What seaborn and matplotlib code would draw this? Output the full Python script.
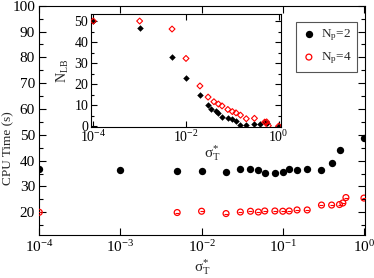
import numpy as np
import pandas as pd
import matplotlib
matplotlib.use("Agg")
import matplotlib.pyplot as plt
import seaborn as sns
from matplotlib.ticker import (FixedLocator, MultipleLocator,
                               NullLocator, LogFormatterSciNotation)

# ---------------- data ----------------
sigma_np2 = [1e-4, 1e-3, 0.005, 0.01, 0.02, 0.03, 0.04, 0.05, 0.06, 0.08,
             0.1, 0.12, 0.15, 0.2, 0.3, 0.4, 0.5, 1.0]
cpu_np2 = [36.9, 36.4, 35.8, 35.8, 35.7, 36.9, 36.6, 36.5, 35.3, 35.3,
           35.6, 36.7, 36.4, 36.6, 36.4, 39.1, 44.0, 48.7]

sigma_np4 = [1e-4, 0.005, 0.01, 0.02, 0.03, 0.04, 0.05, 0.06, 0.08, 0.1,
             0.12, 0.15, 0.2, 0.3, 0.4, 0.5, 0.55, 0.6, 1.0]
cpu_np4 = [20.0, 19.9, 20.4, 19.5, 20.1, 20.4, 20.1, 20.5, 20.5, 20.4,
           20.5, 20.9, 20.9, 22.8, 22.8, 23.0, 23.6, 25.7, 25.5]

inset_sigma_np2 = [1e-4, 1e-3, 0.005, 0.01, 0.02, 0.03, 0.035, 0.045, 0.05,
                   0.06, 0.08, 0.1, 0.12, 0.15, 0.2, 0.3, 0.4, 0.5, 0.55, 1.0]
inset_nlb_np2 = [50, 46.8, 32.7, 22.7, 14.8, 10.1, 8.2, 7.3, 6.2,
                 4.2, 4.0, 3.4, 2.2, 0.3, 0.3, 0.8, 0.8, 2.0, 1.5, 0.2]

inset_sigma_np4 = [1e-4, 1e-3, 0.005, 0.01, 0.02, 0.03, 0.04, 0.05, 0.06,
                   0.08, 0.1, 0.12, 0.15, 0.2, 0.3, 0.5, 0.55, 0.6, 1.0]
inset_nlb_np4 = [50, 50, 46.2, 32.2, 19.1, 13.8, 11.6, 10.5, 9.6,
                 7.9, 6.9, 6.3, 5.2, 3.5, 3.7, 1.9, 2.0, 0.2, 0.0]

label_np2 = r"N$_\mathrm{p}$=2"
label_np4 = r"N$_\mathrm{p}$=4"
xlabel = r"σ$_\mathrm{T}^{*}$"
ylabel_main = "CPU Time (s)"
ylabel_inset = r"N$_\mathrm{LB}$"

df2 = pd.DataFrame({"sigma": sigma_np2, "cpu": cpu_np2})
df4 = pd.DataFrame({"sigma": sigma_np4, "cpu": cpu_np4})
di2 = pd.DataFrame({"sigma": inset_sigma_np2, "nlb": inset_nlb_np2})
di4 = pd.DataFrame({"sigma": inset_sigma_np4, "nlb": inset_nlb_np4})

# ---------------- style ----------------
sns.set_theme(style="ticks")
plt.rcParams["font.family"] = ["Liberation Serif", "DejaVu Serif"]
plt.rcParams["mathtext.fontset"] = "custom"
plt.rcParams["mathtext.rm"] = "Liberation Serif"
plt.rcParams["mathtext.it"] = "Liberation Serif:italic"
plt.rcParams["mathtext.default"] = "regular"
plt.rcParams["axes.linewidth"] = 0.8
plt.rcParams["axes.edgecolor"] = "black"

RED = "#ff0000"

fig = plt.figure(figsize=(3.74, 2.78), dpi=100)
ax = fig.add_axes([0.105, 0.1547, 0.872, 0.8248])

sns.scatterplot(data=df2, x="sigma", y="cpu", ax=ax, marker="o", s=28,
                color="black", edgecolor="black", linewidth=0, label=label_np2,
                zorder=3)
sns.scatterplot(data=df4, x="sigma", y="cpu", ax=ax, marker="o", s=18,
                facecolor="none", edgecolor=RED, linewidth=0.9, label=label_np4,
                zorder=4)
sns.scatterplot(data=df4, x="sigma", y="cpu", ax=ax, marker="_", s=9,
                color=RED, linewidth=0.8, legend=False, zorder=4)

ax.set_xscale("log")
ax.set_xlim(1e-4, 10 ** 0.018)
ax.set_ylim(11.2, 100)
ax.xaxis.set_major_locator(FixedLocator([1e-4, 1e-3, 1e-2, 1e-1, 1e0]))
ax.xaxis.set_major_formatter(LogFormatterSciNotation())
ax.xaxis.set_minor_locator(NullLocator())
ax.yaxis.set_major_locator(MultipleLocator(10))
ax.yaxis.set_minor_locator(MultipleLocator(5))
ax.tick_params(which="both", direction="in", top=True, right=True,
               width=0.8, colors="black", labelsize=11)
ax.tick_params(which="major", length=5, pad=3)
ax.tick_params(which="minor", length=3)
ax.set_xlabel(xlabel, fontsize=11)
ax.set_ylabel(ylabel_main, fontsize=9.5)
ax.yaxis.set_label_coords(-0.078, 0.38)
ax.xaxis.set_label_coords(0.5, -0.095)

leg = ax.legend(loc="upper right", bbox_to_anchor=(0.975, 0.93),
                borderaxespad=0, fancybox=False, framealpha=1,
                edgecolor="#555555", fontsize=9.5, handletextpad=0.4,
                handlelength=1.0, borderpad=0.45, labelspacing=0.55)
leg.get_frame().set_linewidth(0.8)

# ---------------- inset ----------------
axin = fig.add_axes([0.2433, 0.5442, 0.508, 0.4043])
axin.set_facecolor("white")
sns.scatterplot(data=di2, x="sigma", y="nlb", ax=axin, marker="D", s=11,
                color="black", edgecolor="black", linewidth=0, legend=False,
                zorder=3)
sns.scatterplot(data=di4, x="sigma", y="nlb", ax=axin, marker="D", s=9,
                facecolor="none", edgecolor=RED, linewidth=0.8, legend=False,
                zorder=4)
axin.set_xscale("log")
axin.set_xlim(10 ** -4.05, 10 ** 0.05)
axin.set_ylim(-0.3, 53.2)
axin.xaxis.set_major_locator(FixedLocator([1e-4, 1e-2, 1e0]))
axin.xaxis.set_major_formatter(LogFormatterSciNotation())
axin.xaxis.set_minor_locator(NullLocator())
axin.yaxis.set_major_locator(MultipleLocator(10))
axin.yaxis.set_minor_locator(MultipleLocator(5))
axin.tick_params(which="both", direction="in", top=True, right=True,
                 width=0.8, colors="black", labelsize=10)
axin.tick_params(which="major", length=4, pad=2)
axin.tick_params(which="minor", length=2.5)
axin.set_xlabel(xlabel, fontsize=11)
axin.set_ylabel(ylabel_inset, fontsize=10)
axin.xaxis.set_label_coords(0.64, -0.15)
axin.yaxis.set_label_coords(-0.105, 0.5)

fig.savefig("out.png", dpi=100)
